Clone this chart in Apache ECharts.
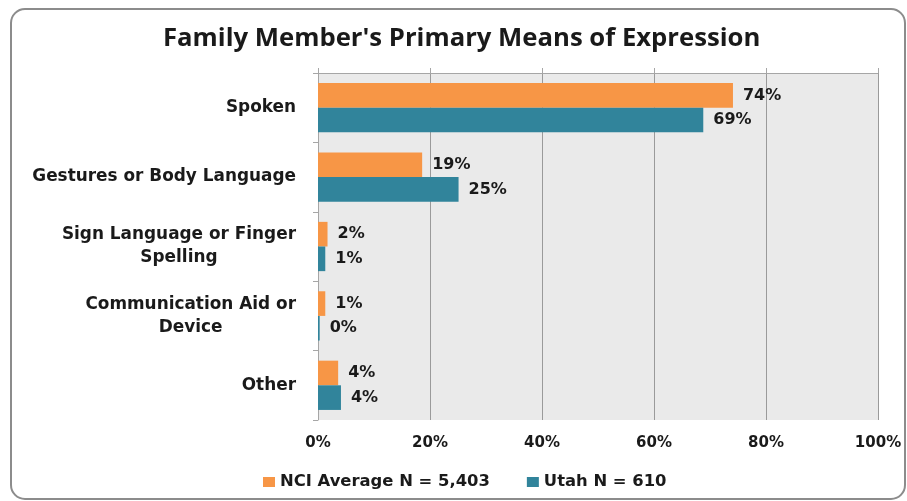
<!DOCTYPE html>
<html>
<head>
<meta charset="utf-8">
<script src="https://cdn.jsdelivr.net/npm/echarts@6/dist/echarts.min.js"></script>
<style>
  html, body { margin: 0; padding: 0; background: #fff; }
  #main { width: 907px; height: 501px; }
</style>
</head>
<body>
<div id="main"></div>
<script>
// values (percent)
const categories = [
    'Spoken',
    'Gestures or Body Language',
    'Sign Language or Finger\nSpelling',
    'Communication Aid or\nDevice',
    'Other'
];
const nciValues = [74.1, 18.6, 1.7, 1.3, 3.6];
const utahValues = [68.8, 25.1, 1.3, 0.3, 4.1];
const seriesNames = ['NCI Average N = 5,403', 'Utah N = 610'];
const xTicks = [0, 20, 40, 60, 80, 100];

const labelFont = 'DejaVu Sans';
const textColor = '#1a1a1a';

const chartDom = document.getElementById('main');
const myChart = echarts.init(chartDom, null, { renderer: 'canvas' });

const barLabel = {
    show: true,
    position: 'right',
    distance: 10,
    fontFamily: labelFont,
    fontWeight: 'bold',
    fontSize: 16,
    color: textColor,
    formatter: function (p) {
        return Math.round(p.value) + '%';
    }
};

const option = {
    animation: false,
    backgroundColor: '#fff',
    title: {
        text: "Family Member's Primary Means of Expression",
        left: 158,
        top: 21,
        textStyle: {
            fontFamily: 'Open Sans',
            fontWeight: 'bold',
            fontSize: 25.7,
            color: textColor
        }
    },
    legend: {
        left: 258,
        top: 469,
        itemWidth: 12,
        itemHeight: 10,
        itemGap: 37,
        icon: 'rect',
        textStyle: {
            fontFamily: labelFont,
            fontWeight: 'bold',
            fontSize: 16.4,
            color: textColor
        },
        data: seriesNames
    },
    grid: {
        left: 318,
        right: 29,
        top: 73,
        bottom: 81,
        show: true,
        backgroundColor: '#eaeaea',
        borderWidth: 0
    },
    xAxis: [
        {
            type: 'value',
            position: 'bottom',
            min: 0,
            max: 100,
            interval: 20,
            axisLine: { show: false },
            axisTick: { show: false },
            axisLabel: {
                margin: 16,
                fontFamily: labelFont,
                fontWeight: 'bold',
                fontSize: 15,
                color: textColor,
                formatter: function (v) {
                    return xTicks.indexOf(v) >= 0 ? v + '%' : '';
                }
            },
            splitLine: { show: true, lineStyle: { color: '#9a9a9a', width: 1 } }
        },
        {
            type: 'value',
            position: 'top',
            min: 0,
            max: 100,
            interval: 20,
            axisLine: { show: true, lineStyle: { color: '#a6a6a6', width: 1 } },
            axisTick: { show: true, inside: false, length: 5, lineStyle: { color: '#a6a6a6' } },
            axisLabel: { show: false },
            splitLine: { show: false }
        }
    ],
    yAxis: {
        type: 'category',
        inverse: true,
        data: categories,
        axisLine: { show: true, lineStyle: { color: '#a6a6a6', width: 1 } },
        axisTick: { show: true, length: 5, lineStyle: { color: '#a6a6a6' } },
        axisLabel: {
            margin: 22,
            formatter: function (v) {
                return '{a|' + v.split('\n').join('}\n{a|') + '}';
            },
            rich: {
                a: {
                    align: 'center',
                    fontFamily: labelFont,
                    fontWeight: 'bold',
                    fontSize: 16.9,
                    lineHeight: 23,
                    color: textColor
                }
            }
        }
    },
    series: [
        {
            name: seriesNames[0],
            type: 'bar',
            xAxisIndex: 0,
            data: nciValues,
            barGap: '0%',
            barCategoryGap: '29%',
            itemStyle: { color: '#f79646' },
            label: barLabel
        },
        {
            name: seriesNames[1],
            type: 'bar',
            xAxisIndex: 0,
            data: utahValues,
            itemStyle: { color: '#31849b' },
            label: barLabel
        }
    ],
    graphic: [
        {
            type: 'rect',
            shape: { x: 11, y: 9, width: 894, height: 490, r: 14 },
            style: { fill: 'none', stroke: '#8c8c8c', lineWidth: 2 },
            silent: true,
            z: 100
        }
    ]
};

myChart.setOption(option);
</script>
</body>
</html>
